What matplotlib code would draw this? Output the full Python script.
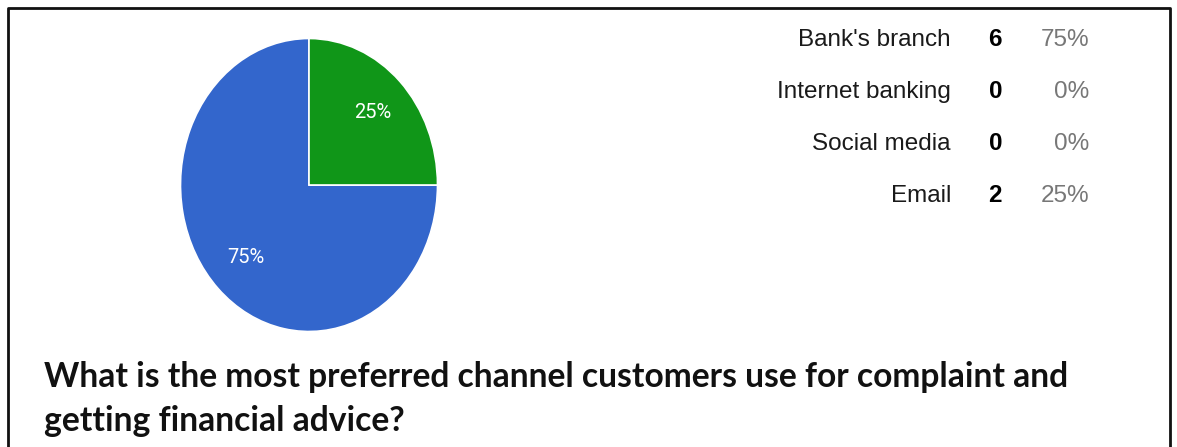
import matplotlib
matplotlib.use("Agg")
import matplotlib.pyplot as plt
from matplotlib.lines import Line2D

# answer counts per channel
channels = ["Bank's branch", "Internet banking", "Social media", "Email"]
counts = [6, 0, 0, 2]
colors = ["#3366cc", "#dc3912", "#ff9900", "#109618"]
question = ("What is the most preferred channel customers use for complaint and\n"
            "getting financial advice?")

W, H = 1177, 447
fig = plt.figure(figsize=(W / 100, H / 100), dpi=100)

total = sum(counts)


def pct_label(p):
    return "%d%%" % round(p) if p > 0.5 else ""


# pie area (slightly taller than wide)
cx, cy, rx, ry = 309, 185, 128.5, 146.5
ax = fig.add_axes([(cx - rx) / W, (H - cy - ry) / H, 2 * rx / W, 2 * ry / H])
wedges, texts, autotexts = ax.pie(
    counts, colors=colors, startangle=90, counterclock=True,
    autopct=pct_label, pctdistance=0.7,
    wedgeprops=dict(edgecolor="white", linewidth=1.2),
    textprops=dict(color="white", fontsize=14.5, family="Roboto"))
ax.set_aspect("auto")
ax.set_xlim(-1, 1)
ax.set_ylim(-1, 1)

# table of answers at the right
row_y = [40, 92, 144, 196]
for name, n, y in zip(channels, counts, row_y):
    fy = 1 - y / H
    fig.text(951 / W, fy, name, ha="right", va="center",
             fontsize=17.5, family="Liberation Sans", color="#1a1a1a")
    fig.text(1002 / W, fy, str(n), ha="right", va="center",
             fontsize=17.5, family="Liberation Sans", fontweight="bold",
             color="#000000")
    fig.text(1089 / W, fy, "%d%%" % round(100 * n / total), ha="right",
             va="center", fontsize=17.5, family="Liberation Sans",
             color="#777777")

# question text
fig.text(44 / W, 1 - 399 / H, question, ha="left", va="center",
         fontsize=24.2, family="Lato", fontweight="bold", color="#111111",
         linespacing=1.45)

# frame: left, top, right edges
fx = [8 / W, 8 / W, 1170 / W, 1170 / W]
fy = [0, 1 - 8 / H, 1 - 8 / H, 0]
fig.add_artist(Line2D(fx, fy, transform=fig.transFigure, color="#111111",
                      linewidth=2))

fig.savefig("out.png", dpi=100)
